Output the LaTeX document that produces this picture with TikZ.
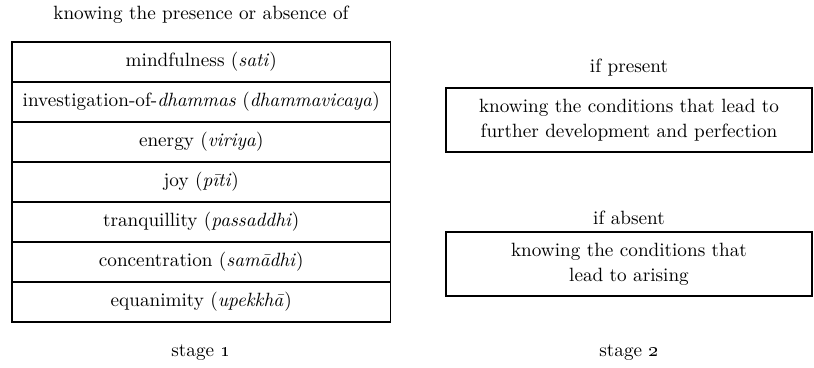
\documentclass[tikz,border=0pt]{standalone}
\begin{document}
\begin{tikzpicture}[x=0.5pt,y=-0.5pt,
  every node/.style={font=\fontsize{9.6}{12.5}\selectfont, inner sep=0pt, outer sep=0pt},
  rowbox/.style={draw, line width=0.55pt, minimum width=189.25pt, minimum height=20pt},
  condbox/.style={draw, line width=0.55pt, minimum width=183pt, minimum height=32pt, align=center},
  lbl/.style={anchor=center}]
\useasboundingbox (0,0) rectangle (814,368);
\node[lbl] (title) at (201,15) {knowing the presence or absence of};
\node[rowbox] (r1) at (201.25,62) {mindfulness (\textit{sati})};
\node[rowbox] (r2) at (201.25,102) {investigation-of-\textit{dhammas} (\textit{dhammavicaya})};
\node[rowbox] (r3) at (201.25,142) {energy (\textit{viriya})};
\node[rowbox] (r4) at (201.25,182) {joy (\textit{pīti})};
\node[rowbox] (r5) at (201.25,222) {tranquillity (\textit{passaddhi})};
\node[rowbox] (r6) at (201.25,262) {concentration (\textit{samādhi})};
\node[rowbox] (r7) at (201.25,302) {equanimity (\textit{upekkhā})};
\node[lbl] (s1) at (201,353) {stage \oldstylenums{1}};
\node[lbl] (ip) at (629,68) {if present};
\node[condbox] (c1) at (629,120) {knowing the conditions that lead to\\further development and perfection};
\node[lbl] (ia) at (629,218) {if absent};
\node[condbox] (c2) at (629,264) {knowing the conditions that\\lead to arising};
\node[lbl] (s2) at (629,353) {stage \oldstylenums{2}};
\end{tikzpicture}
\end{document}
